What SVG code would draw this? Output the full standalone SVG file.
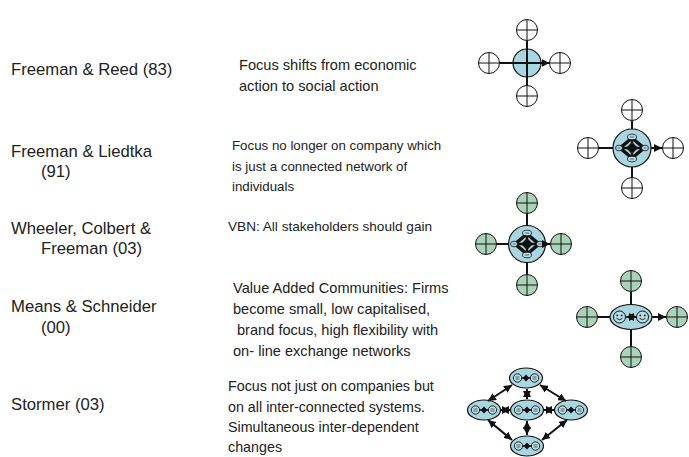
<svg xmlns="http://www.w3.org/2000/svg" xmlns:xlink="http://www.w3.org/1999/xlink" width="689" height="457" viewBox="0 0 689 457">
<style>
.lt{font-family:"Liberation Sans",Arial,sans-serif;font-size:16.7px;fill:#222}
.mt{font-family:"Liberation Sans",Arial,sans-serif;font-size:14px;fill:#222}
.r1{font-size:14.6px}
.r2{font-size:13.3px}
.r3{font-size:13.6px}
.r4{font-size:14.6px}
.r5{font-size:14.3px}
.cb{fill:#a9d6e0;stroke:#111;stroke-width:1.2}
.ar{stroke:#111;stroke-width:2;fill:none;marker-end:url(#ah)}
.dar{stroke:#111;stroke-width:2;fill:none;marker-end:url(#ah);marker-start:url(#ah)}
.cr{stroke:#111;stroke-width:1;fill:none}
.se{fill:#b9dde6;stroke:#111;stroke-width:0.8}
</style>
<defs>
<marker id="ah" viewBox="0 0 10 10" refX="10" refY="5" markerWidth="8" markerHeight="8" markerUnits="userSpaceOnUse" orient="auto-start-reverse">
<path d="M0,0L10,5L0,10z" fill="#111"/>
</marker>
<g id="satW"><circle r="10.5" fill="#fff" stroke="#111" stroke-width="1"/><path d="M-10.5,0H10.5M0,-10.5V10.5" class="cr"/></g>
<g id="satG"><circle r="10.5" fill="#aad3ba" stroke="#111" stroke-width="1"/><path d="M-10.5,0H10.5M0,-10.5V10.5" class="cr"/></g>
<g id="net">
<path d="M0,-10L-12,0L0,10L12,0Z" fill="none" stroke="#111" stroke-width="3.5"/>
<path d="M0,-6L-6,0L0,6L6,0Z" fill="#111"/>
<path d="M-13,0H13M0,-11V11" stroke="#111" stroke-width="2.5"/>
<ellipse cx="0" cy="-11" rx="4.5" ry="2.8" class="se"/>
<ellipse cx="0" cy="11" rx="4.5" ry="2.8" class="se"/>
<ellipse cx="-13" cy="0" rx="3.5" ry="2.8" class="se"/>
<ellipse cx="13" cy="0" rx="3.5" ry="2.8" class="se"/>
<path d="M-2,-11H2M-2,11H2M-14.5,0H-11.5M11.5,0H14.5" stroke="#111" stroke-width="0.6"/>
</g>
<g id="smile"><circle r="6" fill="#b9dde6" stroke="#111" stroke-width="1"/><circle cx="-2.2" cy="-1.6" r="0.9" fill="#111"/><circle cx="2.2" cy="-1.6" r="0.9" fill="#111"/><path d="M-3,1.3Q0,4.3 3,1.3" fill="none" stroke="#111" stroke-width="0.9"/></g>
<g id="cell">
<ellipse rx="16.5" ry="10" class="cb"/>
<circle cx="-8.5" cy="0" r="4.2" fill="#b9dde6" stroke="#111" stroke-width="0.9"/>
<circle cx="8.5" cy="0" r="4.2" fill="#b9dde6" stroke="#111" stroke-width="0.9"/>
<path d="M-10.5,-1H-6.5M-10.5,1H-6.5M6.5,-1H10.5M6.5,1H10.5" stroke="#111" stroke-width="0.6"/>
<path d="M-4.5,0H4.5" stroke="#111" stroke-width="1.5"/>
<path d="M0,-3.5L3.3,0L0,3.5L-3.3,0Z" fill="#111"/>
</g>
</defs>

<g id="labels">
<text class="lt" x="11" y="75">Freeman &amp; Reed (83)</text>
<text class="lt" x="11" y="157">Freeman &amp; Liedtka</text>
<text class="lt" x="41" y="177">(91)</text>
<text class="lt" x="11" y="234">Wheeler, Colbert &amp;</text>
<text class="lt" x="41" y="254">Freeman (03)</text>
<text class="lt" x="11" y="312">Means &amp; Schneider</text>
<text class="lt" x="41" y="333">(00)</text>
<text class="lt" x="11" y="410">Stormer (03)</text>
</g>

<g id="descriptions">
<text class="mt r1" x="239" y="70">Focus shifts from economic</text>
<text class="mt r1" x="239" y="91">action to social action</text>
<text class="mt r2" x="232" y="150">Focus no longer on company which</text>
<text class="mt r2" x="232" y="171">is just a connected network of</text>
<text class="mt r2" x="232" y="191">individuals</text>
<text class="mt r3" x="228" y="231">VBN: All stakeholders should gain</text>
<text class="mt r4" x="233" y="293">Value Added Communities: Firms</text>
<text class="mt r4" x="233" y="314">become small, low capitalised,</text>
<text class="mt r4" x="237" y="335">brand focus, high flexibility with</text>
<text class="mt r4" x="233" y="356">on- line exchange networks</text>
<text class="mt r5" x="228" y="391">Focus not just on companies but</text>
<text class="mt r5" x="228" y="412">on all inter-connected systems.</text>
<text class="mt r5" x="228" y="432">Simultaneous inter-dependent</text>
<text class="mt r5" x="228" y="452">changes</text>
</g>

<g id="icon1">
<circle cx="527" cy="63" r="14" class="cb"/>
<use xlink:href="#satW" x="527" y="30"/>
<use xlink:href="#satW" x="527" y="96"/>
<use xlink:href="#satW" x="489" y="63"/>
<use xlink:href="#satW" x="560" y="63"/>
</g>
<g id="icon2">
<circle cx="632" cy="148" r="19" class="cb"/>
<use xlink:href="#net" x="632" y="148"/>
<use xlink:href="#satW" x="632" y="110"/>
<use xlink:href="#satW" x="632" y="188"/>
<use xlink:href="#satW" x="588" y="148"/>
<use xlink:href="#satW" x="673" y="148"/>
</g>
<g id="icon3">
<circle cx="527" cy="244" r="18.5" class="cb"/>
<use xlink:href="#net" x="527" y="244"/>
<use xlink:href="#satG" x="527" y="203"/>
<use xlink:href="#satG" x="527" y="285"/>
<use xlink:href="#satG" x="486" y="244"/>
<use xlink:href="#satG" x="561" y="244"/>
</g>
<g id="icon4">
<ellipse cx="631" cy="317" rx="21" ry="12.5" class="cb"/>
<use xlink:href="#smile" x="619.5" y="317"/>
<use xlink:href="#smile" x="642.5" y="317"/>
<path d="M626,317H637" class="dar" style="stroke-width:1.5"/>
<use xlink:href="#satG" x="631" y="281"/>
<use xlink:href="#satG" x="631" y="357"/>
<use xlink:href="#satG" x="587" y="317"/>
<use xlink:href="#satG" x="677" y="317"/>
</g>
<g id="icon5">
<use xlink:href="#cell" x="526" y="378"/>
<use xlink:href="#cell" x="484" y="410"/>
<use xlink:href="#cell" x="527" y="410"/>
<use xlink:href="#cell" x="571" y="410"/>
<use xlink:href="#cell" x="527" y="446"/>
</g>

<g id="connectors">
<path d="M527,63V40.5M527,63V85.5M527,63H499.5M527,63H549.5" class="ar"/>
<path d="M632,129V121M632,167V177M613,148H599M651,148H662" class="ar"/>
<path d="M527,225.5V214M527,262.5V274M508.5,244H497M545.5,244H550" class="ar"/>
<path d="M631,304.5V292M631,329.5V346M610,317H598M652,317H666" class="ar"/>
<path d="M512,385L488,401" class="dar"/>
<path d="M540,385L566,401" class="dar"/>
<path d="M527,389V399" class="dar"/>
<path d="M501,410H510" class="dar"/>
<path d="M544,410H554" class="dar"/>
<path d="M527,421V435" class="dar"/>
<path d="M488,420L512,440" class="dar"/>
<path d="M567,420L542,440" class="dar"/>
</g>
</svg>
